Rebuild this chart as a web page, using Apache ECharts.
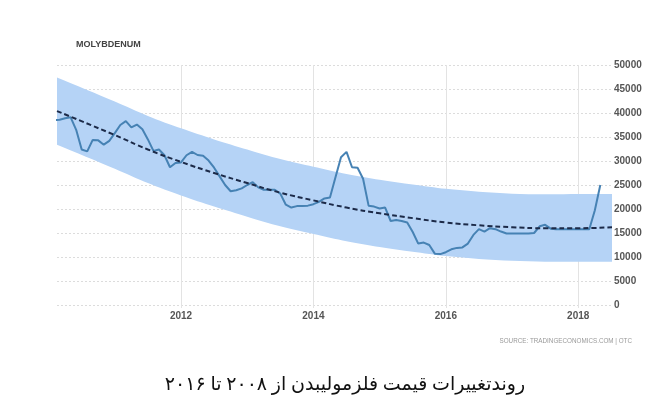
<!DOCTYPE html>
<html>
<head>
<meta charset="utf-8">
<script src="https://cdn.jsdelivr.net/npm/echarts@6/dist/echarts.min.js"></script>
<style>html,body{margin:0;padding:0;background:#fff}#c{width:671px;height:420px}</style>
</head>
<body>
<div id="c"></div>
<script>
// Monthly molybdenum price, starting Feb 2010 (USD/t)
const startYear = 2010, startMonth = 2;
const priceValues = [
  38500,38600,38900,39100,36500,32400,32000,34400,34300,33400,
  34200,35800,37500,38300,37000,37600,36600,34500,32100,32400,
  31200,28700,29600,29700,31200,31900,31250,31100,30100,28600,
  26800,25000,23700,23900,24300,25000,25600,24500,24000,24000,
  24000,23200,20900,20300,20600,20600,20700,21000,21500,22200,
  22400,26600,30800,31900,28700,28600,26300,20700,20500,20100,
  20300,17500,17700,17500,17200,15200,12800,13000,12500,10700,
  10600,11000,11600,11900,12000,12800,14600,15800,15300,16000,
  15800,15300,14900,14900,14900,14900,14900,15000,16400,16700,
  15900,15800,15800,15800,15800,15800,15800,15800,19700,25000
];
// Trend and channel, read at half-year points
const trendYears = [2010.127,2011.0,2011.5,2012.0,2012.5,2013.0,2013.5,2014.0,2014.5,2015.0,2015.5,2016.0,2016.5,2017.0,2017.5,2018.0,2018.51];
const trendValues = [40400,35400,32400,29800,27500,25400,23400,21800,20300,19100,18100,17200,16600,16200,16000,16000,16200];
const bandUpper   = [47400,42400,39400,36800,34500,32400,30400,28800,27300,26100,25100,24200,23600,23200,23050,23100,23100];
const bandLower   = [33400,28400,25400,22800,20500,18400,16400,14800,13300,12100,11100,10200,9600,9200,9000,9000,9000];
const xTickYears = [2012, 2014, 2016, 2018];

const priceData = priceValues.map((v, k) => [startYear + (startMonth - 1 + k) / 12, v]);
const trendData = trendValues.map((v, i) => [trendYears[i], v]);

function renderBand(params, api) {
  const up = trendYears.map((t, i) => api.coord([t, bandUpper[i]]));
  const lo = trendYears.map((t, i) => api.coord([t, bandLower[i]])).reverse();
  // repeat the corner points so the smoothing keeps the corners sharp
  const pts = [up[0]].concat(up, [up[up.length - 1]], [lo[0]], lo, [lo[lo.length - 1]]);
  return {
    type: 'polygon', shape: {points: pts, smooth: 0.3},
    style: {fill: '#b5d3f6', stroke: null}
  };
}

const chart = echarts.init(document.getElementById('c'), null, {renderer: 'canvas'});
chart.setOption({
  animation: false,
  backgroundColor: '#fff',
  grid: {left: 57, right: 59, top: 65, bottom: 115, containLabel: false},
  xAxis: {
    type: 'value', min: 2010.127, max: 2018.51,
    axisLine: {show: false},
    axisTick: {show: true, customValues: xTickYears, length: 3, lineStyle: {color: '#e3e3e3'}},
    axisLabel: {customValues: xTickYears, color: '#555', fontSize: 10, fontWeight: 'bold',
      fontFamily: 'Arial, Liberation Sans, sans-serif', margin: 6, formatter: v => String(Math.round(v))},
    splitLine: {show: true, lineStyle: {color: '#e3e3e3', width: 1}}
  },
  yAxis: {
    type: 'value', position: 'right', min: 0, max: 50000, interval: 5000,
    axisLine: {show: false}, axisTick: {show: false},
    axisLabel: {color: '#555', fontSize: 10, fontWeight: 'bold', margin: 2,
      fontFamily: 'Arial, Liberation Sans, sans-serif', formatter: v => String(v)},
    splitLine: {show: true, lineStyle: {color: '#dcdcdc', type: [2, 2], width: 1}}
  },
  series: [
    {type: 'custom', data: [[trendYears[0], bandUpper[0]]], renderItem: renderBand, silent: true, clip: true, z: 1},
    {type: 'line', data: priceData, symbol: 'none', smooth: false, z: 3,
      lineStyle: {color: '#4682b4', width: 2}},
    {type: 'line', data: trendData, symbol: 'none', smooth: true, z: 4,
      lineStyle: {color: '#1c2a48', width: 2, type: [5, 3]}}
  ],
  graphic: [
    {type: 'text', left: 76, top: 40, style: {text: 'MOLYBDENUM', fill: '#444',
      font: 'bold 9px Arial, "Liberation Sans", sans-serif'}},
    {type: 'text', x: 632, y: 341, style: {text: 'SOURCE: TRADINGECONOMICS.COM | OTC', fill: '#999',
      font: '6.3px Arial, "Liberation Sans", sans-serif', align: 'right', verticalAlign: 'middle'}},
    {type: 'text', x: 345, y: 385, style: {text: 'روندتغییرات قیمت فلزمولیبدن از ۲۰۰۸ تا ۲۰۱۶', fill: '#111',
      font: '19px "Liberation Serif", "DejaVu Sans", serif', align: 'center', verticalAlign: 'middle'}}
  ]
});
</script>
</body>
</html>
